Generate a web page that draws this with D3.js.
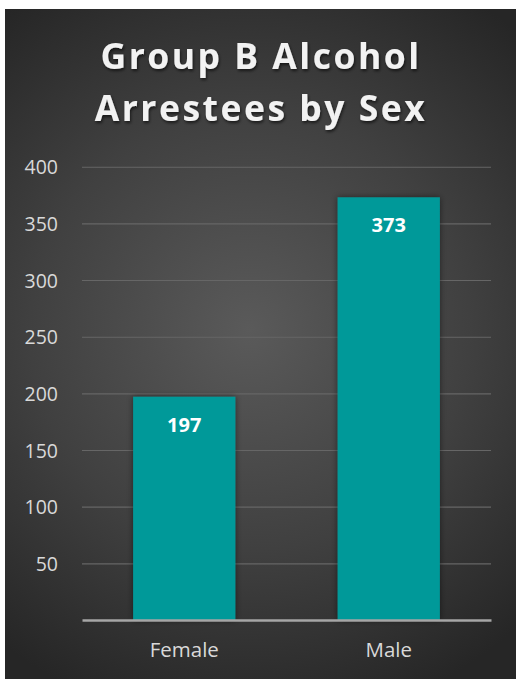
<!DOCTYPE html>
<html>
<head>
<meta charset="utf-8">
<script src="https://cdn.jsdelivr.net/npm/d3@7"></script>
<style>
  html, body { margin: 0; padding: 0; background: #ffffff; }
  svg { display: block; }
</style>
</head>
<body>
<svg id="chart" width="516" height="679"></svg>
<script>
const titleLines = ["Group B Alcohol", "Arrestees by Sex"];
const categories = ["Female", "Male"];
const values = [197, 373];
const yTicks = [50, 100, 150, 200, 250, 300, 350, 400];

const svg = d3.select("#chart");
const defs = svg.append("defs");

const grad = defs.append("radialGradient")
  .attr("id", "bg").attr("gradientUnits", "userSpaceOnUse")
  .attr("cx", 250).attr("cy", 330).attr("r", 400);
grad.append("stop").attr("offset", "0%").attr("stop-color", "#5a5a5a");
grad.append("stop").attr("offset", "55%").attr("stop-color", "#404040");
grad.append("stop").attr("offset", "100%").attr("stop-color", "#262626");

const ts = defs.append("filter").attr("id", "tshadow")
  .attr("x", "-10%").attr("y", "-20%").attr("width", "120%").attr("height", "150%");
ts.append("feDropShadow").attr("dx", 1).attr("dy", 2).attr("stdDeviation", 1.5)
  .attr("flood-color", "#000").attr("flood-opacity", 0.6);

const bs = defs.append("filter").attr("id", "bshadow")
  .attr("x", "-20%").attr("y", "-20%").attr("width", "140%").attr("height", "140%");
bs.append("feDropShadow").attr("dx", 0).attr("dy", 0).attr("stdDeviation", 3)
  .attr("flood-color", "#000").attr("flood-opacity", 0.5);

svg.append("rect").attr("x", 5).attr("y", 9).attr("width", 511).attr("height", 670)
  .attr("fill", "url(#bg)");

const font = "'Open Sans', 'Noto Sans', sans-serif";

// Title
const title = svg.append("g").attr("filter", "url(#tshadow)");
title.selectAll("text").data(titleLines).join("text")
  .attr("x", 261)
  .attr("y", (d, i) => 69 + i * 52)
  .attr("text-anchor", "middle")
  .attr("font-family", font)
  .attr("font-weight", 700)
  .attr("font-size", 35.5)
  .attr("letter-spacing", 2.5)
  .attr("fill", "#f2f2f2")
  .text(d => d);

const margin = { left: 82, right: 491, top: 166.7, bottom: 620 };

const x = d3.scaleBand().domain(categories)
  .range([margin.left, margin.right])
  .paddingInner(0.5).paddingOuter(0.25);

const y = d3.scaleLinear().domain([0, 400]).range([margin.bottom, margin.top]);

// Gridlines
const yAxis = d3.axisLeft(y).tickValues(yTicks).tickSize(-(margin.right - margin.left)).tickPadding(24);
const gy = svg.append("g").attr("transform", `translate(${margin.left},0)`).call(yAxis);
gy.select(".domain").remove();
gy.selectAll(".tick line").attr("stroke", "#666666").attr("stroke-width", 1.1).attr("x1", 0);
gy.selectAll(".tick text")
  .attr("font-family", font).attr("font-size", 19.5).attr("fill", "#d9d9d9")
  .attr("x", 58 - margin.left).attr("dy", "0.36em");

// Bars
svg.append("g").attr("filter", "url(#bshadow)")
  .selectAll("rect").data(values).join("rect")
  .attr("x", (d, i) => x(categories[i]))
  .attr("y", d => y(d))
  .attr("width", x.bandwidth())
  .attr("height", d => y(0) - y(d))
  .attr("fill", "#009999");

// Baseline axis
const xAxis = d3.axisBottom(x).tickSize(0).tickPadding(22);
const gx = svg.append("g").attr("transform", `translate(0,${margin.bottom})`).call(xAxis);
gx.select(".domain").attr("stroke", "#a6a6a6").attr("stroke-width", 2.5);
gx.selectAll(".tick text")
  .attr("font-family", font).attr("font-size", 20.5).attr("fill", "#d9d9d9");

// Data labels
svg.append("g").selectAll("text").data(values).join("text")
  .attr("x", (d, i) => x(categories[i]) + x.bandwidth() / 2)
  .attr("y", d => y(d) + 35)
  .attr("text-anchor", "middle")
  .attr("font-family", font).attr("font-weight", 700).attr("font-size", 20)
  .attr("fill", "#ffffff")
  .text(d => d);
</script>
</body>
</html>
